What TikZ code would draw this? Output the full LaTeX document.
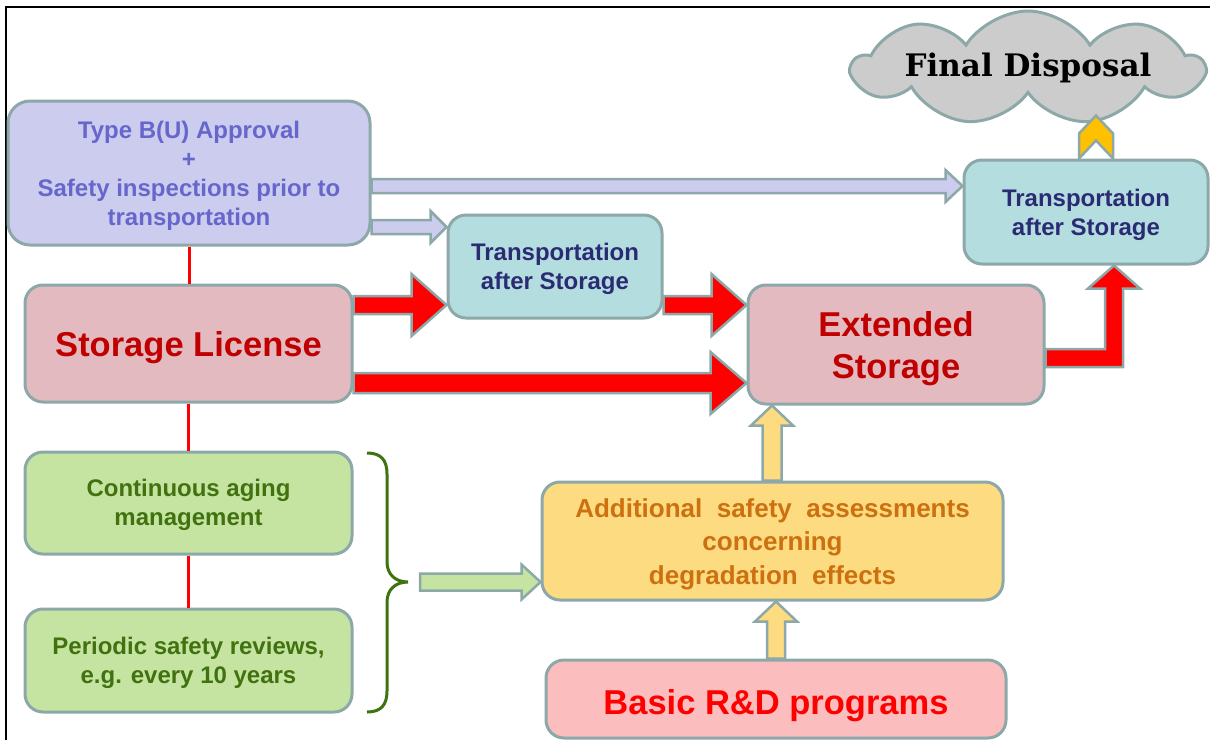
\documentclass[tikz,border=0pt]{standalone}
\usepackage{fontspec}
\setmainfont{Liberation Sans}
\newfontfamily\titlefont{DejaVu Serif}
\usetikzlibrary{calc,shapes.symbols}

\definecolor{edge}{HTML}{8CA8A8}
\definecolor{lavfill}{HTML}{CCCCEE}
\definecolor{lavtext}{HTML}{6666CC}
\definecolor{pinkfill}{HTML}{E3BAC0}
\definecolor{darkred}{HTML}{C00000}
\definecolor{cyanfill}{HTML}{B4DDDF}
\definecolor{navytext}{HTML}{2B2B74}
\definecolor{greenfill}{HTML}{C5E4A2}
\definecolor{greentext}{HTML}{41720F}
\definecolor{yellowfill}{HTML}{FDDB80}
\definecolor{orangetext}{HTML}{CC7010}
\definecolor{rosefill}{HTML}{FBBDBD}
\definecolor{cloudfill}{HTML}{CCCCCC}
\definecolor{chevron}{HTML}{FFC000}
\definecolor{bracegreen}{HTML}{3F7310}

\tikzset{
  box/.style={draw=edge, line width=3pt, rounded corners=18pt, inner sep=0pt,
    align=center},
  small/.style={font=\fontsize{24}{29}\selectfont\bfseries},
  big/.style={font=\fontsize{34.5}{42}\selectfont\bfseries},
  blockarrow/.style={draw=edge, line width=2.5pt, line join=miter},
  linkline/.style={draw=red, line width=3pt},
}

% a strut on the first line that sets the text a little lower in its box
\newcommand{\firstline}[1]{\rule{0pt}{#1}}

% horizontal block arrow: from, to, shaft half width, head half width, head length, style
\newcommand{\hblock}[6]{%
  \draw[blockarrow,#6] let \p1=(#1), \p2=(#2) in
    (\x1,{\y1+#3}) -- ({\x2-#5},{\y1+#3}) -- ({\x2-#5},{\y1+#4}) -- (\x2,\y1)
    -- ({\x2-#5},{\y1-#4}) -- ({\x2-#5},{\y1-#3}) -- (\x1,{\y1-#3}) -- cycle;}
% vertical block arrow pointing up: from, to, shaft half width, head half width, head length, style
\newcommand{\vblock}[6]{%
  \draw[blockarrow,#6] let \p1=(#1), \p2=(#2) in
    ({\x1-#3},\y1) -- ({\x1-#3},{\y2-#5}) -- ({\x1-#4},{\y2-#5}) -- (\x1,\y2)
    -- ({\x1+#4},{\y2-#5}) -- ({\x1+#3},{\y2-#5}) -- ({\x1+#3},\y1) -- cycle;}

\begin{document}
\begin{tikzpicture}[x=1pt,y=-1pt]
\useasboundingbox (0,0) rectangle (1210,740);
\fill[white] (0,0) rectangle (1210,740);

% frame
\draw[black, line width=1.5pt] (6,740) -- (6,7) -- (1210,7);

% boxes
\node[box, small, fill=lavfill, text=lavtext, minimum width=362pt, minimum height=144pt, rounded corners=22pt]
  (tb) at (189,173) {\firstline{23.5pt}Type B(U) Approval\\+\\Safety inspections prior to\\transportation};
\node[box, big, fill=pinkfill, text=darkred, minimum width=327pt, minimum height=117pt]
  (sl) at (188.5,343.5) {\firstline{34pt}Storage License};
\node[box, small, fill=cyanfill, text=navytext, minimum width=214pt, minimum height=103pt]
  (tm) at (555,266.5) {\firstline{22pt}Transportation\\after Storage};
\node[box, small, fill=cyanfill, text=navytext, minimum width=244pt, minimum height=104pt]
  (tr) at (1086,212) {\firstline{23pt}Transportation\\after Storage};
\node[box, big, fill=pinkfill, text=darkred, minimum width=296pt, minimum height=119pt]
  (ext) at (896,344.5) {\firstline{33pt}Extended\\Storage};
\node[box, small, fill=greenfill, text=greentext, minimum width=327pt, minimum height=102pt]
  (cam) at (188.5,503) {\firstline{22pt}Continuous aging\\management};
\node[box, small, fill=greenfill, text=greentext, minimum width=327pt, minimum height=103pt]
  (psr) at (188.5,660.5) {\firstline{22pt}Periodic safety reviews,\\e.g. every 10 years};
\node[box, fill=yellowfill, text=orangetext, minimum width=461pt, minimum height=118pt,
  font=\fontsize{26}{33.5}\selectfont\bfseries]
  (add) at (772.5,541) {\firstline{25pt}Additional\ \ safety\ \ assessments\\concerning\\degradation\ \ effects};
\node[box, big, fill=rosefill, text=red, minimum width=460pt, minimum height=78pt]
  (rd) at (776,699) {\firstline{39pt}Basic R\&D programs};

% cloud
\node[cloud, cloud puffs=9, cloud puff arc=115, cloud ignores aspect, draw=edge, line width=3pt,
  fill=cloudfill, minimum width=350pt, minimum height=114pt, inner sep=0pt,
  font=\titlefont\fontsize{31}{34}\selectfont\bfseries]
  (fd) at (1028,68) {Final Disposal};

% red link lines
\draw[linkline] (tb.south) -- (tb.south |- sl.north);
\draw[linkline] (sl.south) -- (cam.north);
\draw[linkline] (cam.south) -- (psr.north);

% lavender arrows
\hblock{tb.east |- 0,186}{tr.west |- 0,186}{7pt}{16pt}{17pt}{fill=lavfill}
\hblock{tb.east |- 0,227}{tm.west |- 0,227}{7pt}{16pt}{16pt}{fill=lavfill}

% red arrows
\hblock{sl.east |- 0,305}{tm.west |- 0,305}{9pt}{31pt}{35pt}{fill=red}
\hblock{tm.east |- 0,305}{ext.west |- 0,305}{9pt}{31pt}{35pt}{fill=red}
\hblock{sl.east |- 0,383}{ext.west |- 0,383}{10pt}{31pt}{36pt}{fill=red}

% elbow arrow to the second transportation
\draw[blockarrow, fill=red] let \p1=(ext.east |- 0,358), \p2=(tr.south -| 1114,0) in
  (\x1,{\y1+9pt}) -- ({\x2-9pt},{\y1+9pt}) -- ({\x2-9pt},{\y2-23pt}) -- ({\x2-26pt},{\y2-23pt})
  -- (\x2,\y2) -- ({\x2+26pt},{\y2-23pt}) -- ({\x2+9pt},{\y2-23pt}) -- ({\x2+9pt},{\y1-9pt})
  -- (\x1,{\y1-9pt}) -- cycle;

% chevron to final disposal
\draw[blockarrow, fill=chevron] let \p1=(tr.north -| 1096,0) in
  ({\x1-17pt},\y1) -- ({\x1-17pt},{\y1+25pt}) -- (\x1,{\y1+43pt}) -- ({\x1+17pt},{\y1+25pt})
  -- ({\x1+17pt},\y1) -- (\x1,{\y1+18pt}) -- cycle;

% yellow arrows
\vblock{add.north -| 772,0}{ext.south -| 772,0}{9.5pt}{21pt}{20pt}{fill=yellowfill}
\vblock{rd.north -| 776,0}{add.south -| 776,0}{9pt}{21pt}{20pt}{fill=yellowfill}

% brace grouping the green boxes
\coordinate (bracetip) at (408,582);
\draw[bracegreen, line width=3pt]
  (367,453) .. controls (381,453) and (387,460) .. (387,474) -- (387,562)
  .. controls (387,574) and (395,582) .. (bracetip)
  .. controls (395,582) and (387,590) .. (387,602) -- (387,691)
  .. controls (387,705) and (381,712) .. (367,712);

% green arrow
\coordinate (gstart) at (420,582);
\hblock{gstart}{add.west |- gstart}{8.5pt}{17.5pt}{19pt}{fill=greenfill}

\end{tikzpicture}
\end{document}
